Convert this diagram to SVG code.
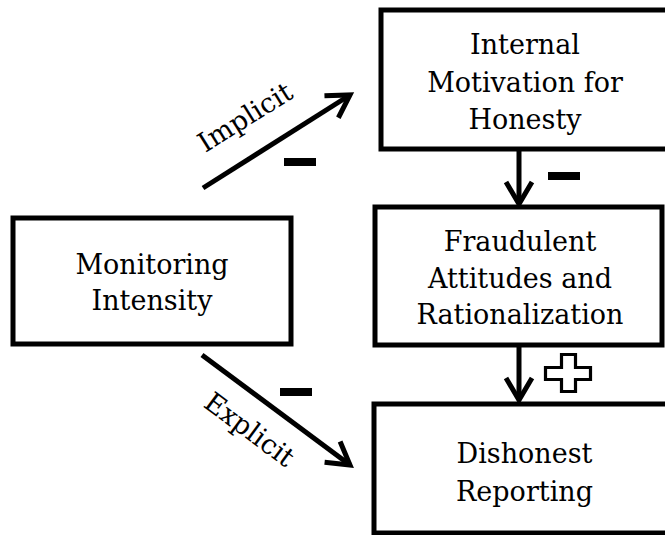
<svg xmlns="http://www.w3.org/2000/svg" width="665" height="535" viewBox="0 0 665 535">
  <style>
    .box { fill: #ffffff; stroke: #000000; stroke-width: 5; }
    .label { font-family: "DejaVu Serif", "Liberation Serif", serif; font-size: 27px; fill: #000000; text-anchor: middle; }
    .edge { stroke: #000000; stroke-width: 5; fill: none; }
    .sign { fill: #000000; }
    .plus { fill: #ffffff; stroke: #000000; stroke-width: 3.2; stroke-linejoin: miter; }
  </style>
  <defs>
    <marker id="head" markerUnits="userSpaceOnUse" markerWidth="40" markerHeight="40" viewBox="-30 -20 40 40" refX="0" refY="0" orient="auto">
      <path d="M -22 -13 L 0 0 L -22 13" fill="none" stroke="#000000" stroke-width="5" stroke-linejoin="miter"/>
    </marker>
  </defs>
  <rect width="665" height="535" fill="#ffffff"/>

  <g id="node-monitoring">
    <rect class="box" x="13" y="218" width="278" height="126"/>
    <text class="label" x="152" y="274">Monitoring</text>
    <text class="label" x="152" y="310">Intensity</text>
  </g>

  <g id="node-motivation">
    <rect class="box" x="381" y="10" width="291" height="139"/>
    <text class="label" x="525" y="54">Internal</text>
    <text class="label" x="525" y="92">Motivation for</text>
    <text class="label" x="525" y="129">Honesty</text>
  </g>

  <g id="node-attitudes">
    <rect class="box" x="375" y="207" width="287" height="138"/>
    <text class="label" x="520" y="251">Fraudulent</text>
    <text class="label" x="520" y="288">Attitudes and</text>
    <text class="label" x="520" y="324">Rationalization</text>
  </g>

  <g id="node-reporting">
    <rect class="box" x="374" y="404" width="298" height="129"/>
    <text class="label" x="524.5" y="463">Dishonest</text>
    <text class="label" x="524.5" y="501">Reporting</text>
  </g>

  <g id="connectors">
    <line class="edge" x1="203" y1="188" x2="350" y2="95" marker-end="url(#head)"/>
    <line class="edge" x1="202" y1="355" x2="350" y2="465" marker-end="url(#head)"/>
    <line class="edge" x1="519" y1="151" x2="519" y2="204" marker-end="url(#head)"/>
    <line class="edge" x1="519" y1="347" x2="519" y2="400" marker-end="url(#head)"/>

    <text class="label" transform="translate(250 125) rotate(-32)" x="0" y="0">Implicit</text>
    <text class="label" transform="translate(244 437) rotate(36.6)" x="0" y="0">Explicit</text>

    <rect class="sign" x="284" y="158" width="32" height="8"/>
    <rect class="sign" x="280" y="388" width="32" height="8"/>
    <rect class="sign" x="548" y="172" width="32" height="8"/>
    <polygon class="plus" points="561.5,354.5 575.5,354.5 575.5,367.5 590.5,367.5 590.5,379.5 575.5,379.5 575.5,391.5 561.5,391.5 561.5,379.5 545.5,379.5 545.5,367.5 561.5,367.5"/>
  </g>
</svg>
